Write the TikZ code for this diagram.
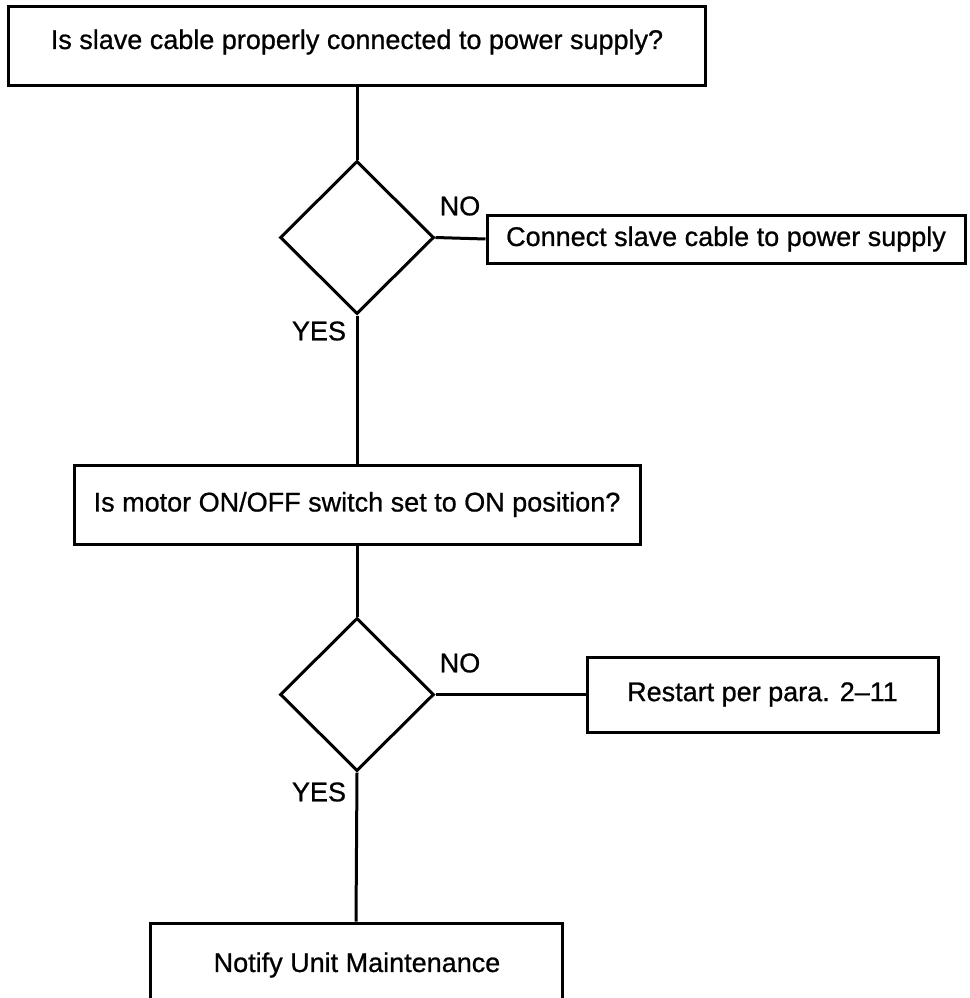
\documentclass[tikz,border=0pt]{standalone}
\usepackage{fontspec}
\setmainfont{Liberation Sans}
\usetikzlibrary{shapes.geometric}
\tikzset{
  box/.style={draw, line width=3pt, rectangle, inner sep=0pt, align=center},
  dec/.style={draw, line width=3pt, diamond, inner sep=0pt, minimum width=154pt, minimum height=153pt},
  conn/.style={line width=3pt},
  lbl/.style={inner sep=0pt}
}
\begin{document}
\begin{tikzpicture}[x=1pt,y=-1pt, font=\fontsize{27}{32}\selectfont\addfontfeatures{FakeBold=0.8}]
\useasboundingbox (0,0) rectangle (969,998);
\node[box, minimum width=697pt, minimum height=79pt] (q1) at (357,46) {};
\node[lbl] (t1) at (357,42) {Is slave cable properly connected to power supply?};
\node[dec] (d1) at (357,237.5) {};
\node[box, minimum width=478pt, minimum height=48pt] (a1) at (726,239) {Connect slave cable to power supply};
\node[lbl] (no1) at (460,206) {NO};
\node[lbl] (yes1) at (319,331) {YES};
\node[box, minimum width=566pt, minimum height=79pt] (q2) at (357,504.5) {Is motor ON/OFF switch set to ON position?};
\node[dec] (d2) at (357,694.5) {};
\node[box, minimum width=351pt, minimum height=75pt] (a2) at (762.5,694.5) {Restart per para. 2--11};
\node[lbl] (no2) at (460,663) {NO};
\node[lbl] (yes2) at (319,792) {YES};
\node[box, minimum width=412pt, minimum height=100pt] (q3) at (356,973) {};
\node[lbl] (t3) at (357,965) {Notify Unit Maintenance};
\draw[conn] (q1.south) -- (d1.north);
\draw[conn] (d1.east) -- (a1.west);
\draw[conn] (d1.south) -- (q2.north);
\draw[conn] (q2.south) -- (d2.north);
\draw[conn] (d2.east) -- (a2.west);
\draw[conn] (d2.south) -- (q3.north);
\end{tikzpicture}
\end{document}
